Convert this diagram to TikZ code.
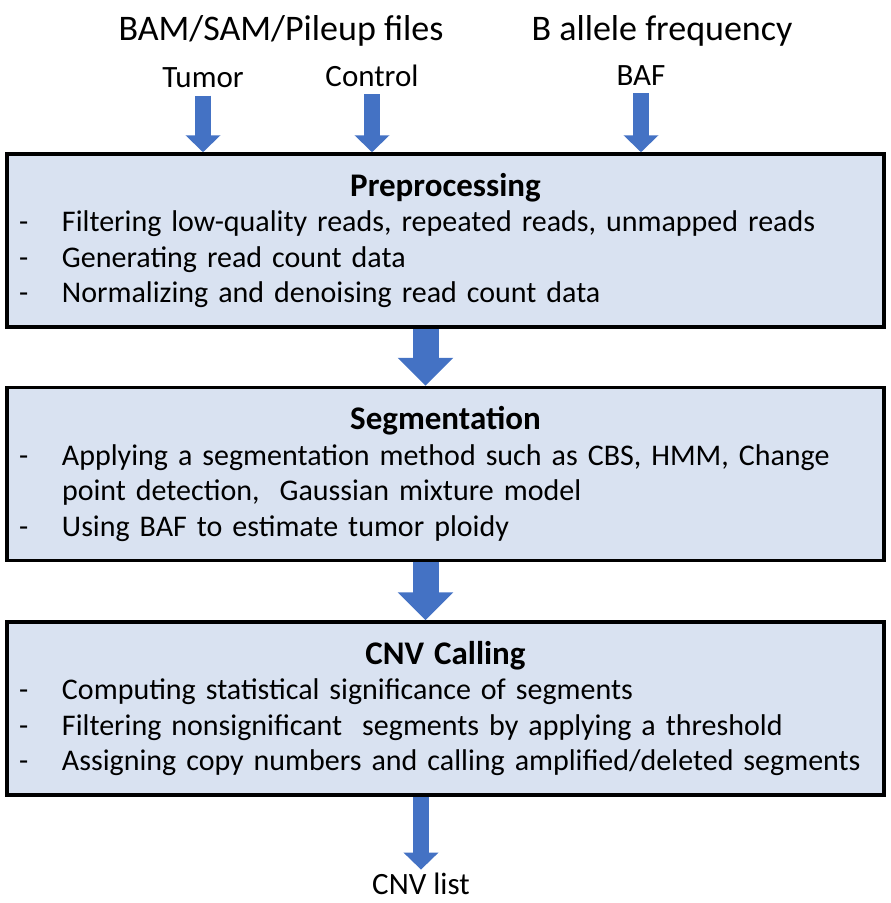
\documentclass[tikz,border=0pt]{standalone}
\usepackage{fontspec}
\setmainfont{Carlito}
\usepackage{xcolor}
\usetikzlibrary{arrows.meta,positioning}

\definecolor{stagefill}{HTML}{D9E2F1}
\definecolor{flowblue}{HTML}{4472C4}

% one dash item, wrapped lines keep the indent
\newcommand{\stepitem}[1]{\par\hyphenpenalty=10000\relax\hangindent=49pt\hangafter=1\noindent\makebox[49pt][l]{\hspace{6pt}-}#1}
\newcommand{\stagehead}[1]{{\centering\fontsize{33}{36}\selectfont\bfseries #1\par}}

\begin{document}
\begin{tikzpicture}[x=1pt, y=-1pt,
  stage/.style={rectangle, draw=black, line width=3.5pt, fill=stagefill, minimum width=877pt, minimum height=173pt, text width=865pt, inner xsep=6pt, align=left, font=\fontsize{30}{35.5}\selectfont},
  heading/.style={font=\fontsize{36}{40}\selectfont},
  inlabel/.style={font=\fontsize{31}{36}\selectfont},
  thinarrow/.style={flowblue, line width=16pt, -{Triangle[length=17pt, width=34pt]}},
  widearrow/.style={flowblue, line width=26pt, -{Triangle[length=28pt, width=54pt]}}
]
\useasboundingbox (0,0) rectangle (891,903);

\node[heading] (bamfiles) at (281,31) {BAM/SAM/Pileup files};
\node[heading] (baftitle) at (662,31) {B allele frequency};
\node[inlabel] (tumor) at (203,78) {Tumor};
\node[inlabel] (control) at (372,76) {Control};
\node[inlabel] (baf) at (641,76) {BAF};

\node[stage] (prep) at (445.5,240.5) {\stagehead{Preprocessing}
  \stepitem{Filtering low-quality reads, repeated reads, unmapped reads}
  \stepitem{Generating read count data}
  \stepitem{Normalizing and denoising read count data}};
\node[stage, below=57pt of prep] (seg) {\stagehead{Segmentation}
  \stepitem{Applying a segmentation method such as CBS, HMM, Change\newline point detection,~ Gaussian mixture model}
  \stepitem{Using BAF to estimate tumor ploidy}};
\node[stage, below=58pt of seg] (cnv) {\stagehead{CNV Calling}
  \stepitem{Computing statistical significance of segments}
  \stepitem{Filtering nonsignificant~ segments by applying a threshold}
  \stepitem{Assigning copy numbers and calling amplified/deleted segments}};

\node[inlabel] (cnvlist) at (421,884) {CNV list};

\draw[thinarrow, shorten <=4pt] (tumor) -- (tumor |- prep.north);
\draw[thinarrow, shorten <=4pt] (control) -- (control |- prep.north);
\draw[thinarrow, shorten <=4pt] (baf) -- (baf |- prep.north);
\draw[widearrow] ([xshift=-20pt]prep.south) -- ([xshift=-20pt]seg.north);
\draw[widearrow] ([xshift=-20pt]seg.south) -- ([xshift=-20pt]cnv.north);
\draw[thinarrow] ([xshift=-24.5pt]cnv.south) -- (cnvlist);
\end{tikzpicture}
\end{document}
